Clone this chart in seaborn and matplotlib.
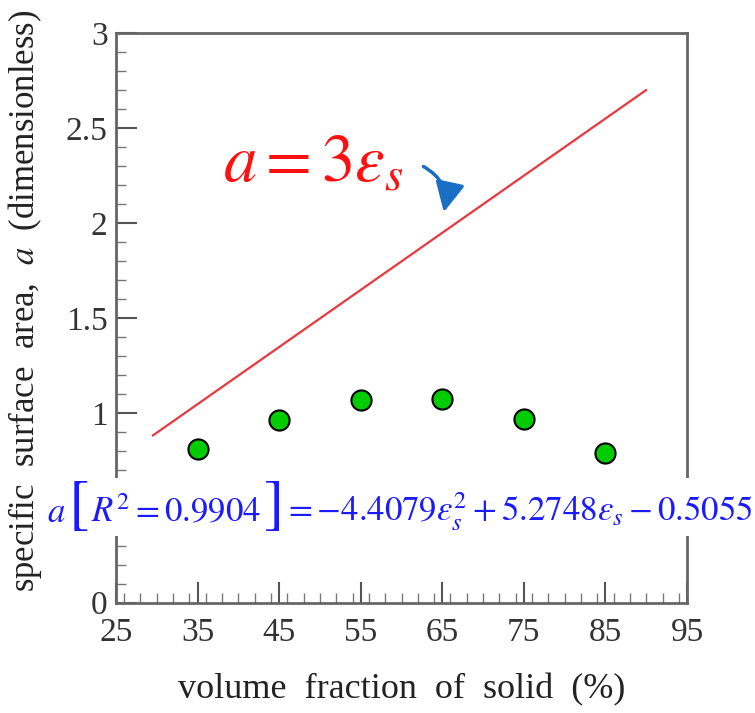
import numpy as np
import pandas as pd
import matplotlib
matplotlib.use("Agg")
import matplotlib.pyplot as plt
from matplotlib.ticker import MultipleLocator, FuncFormatter
from matplotlib.offsetbox import TextArea, HPacker, AnnotationBbox
import seaborn as sns

# === Data ===
solid_frac = [35, 45, 55, 65, 75, 85]                 # volume fraction of solid (%)
surface_area = [0.81, 0.96, 1.065, 1.075, 0.97, 0.79]  # measured a
line_x = [29.5, 90]                                    # a = 3*eps_s guide line
line_y = [0.88, 2.70]

x_ticks = [25, 35, 45, 55, 65, 75, 85, 95]
y_ticks = [0, 0.5, 1, 1.5, 2, 2.5, 3]

pts = pd.DataFrame({"frac": solid_frac, "a": surface_area})
guide = pd.DataFrame({"frac": line_x, "a": line_y})

# === Style ===
sns.set_style("white")
plt.rcParams["font.family"] = ["Liberation Serif", "DejaVu Serif"]
plt.rcParams["mathtext.fontset"] = "stix"

fig = plt.figure(figsize=(7.55, 7.13), dpi=100)
ax = fig.add_axes([0.1536, 0.1547, 0.7564, 0.7990])

sns.lineplot(data=guide, x="frac", y="a", color="#e8383d", linewidth=1.6, ax=ax)
sns.scatterplot(data=pts, x="frac", y="a", color="#00cc00", edgecolor="black",
                linewidth=1.5, s=210, zorder=4, ax=ax)

ax.set_xlim(25, 95)
ax.set_ylim(0, 3)
ax.set_xticks(x_ticks)
ax.set_yticks(y_ticks)
ax.xaxis.set_minor_locator(MultipleLocator(2))
ax.yaxis.set_minor_locator(MultipleLocator(0.1))
# the 0.5 label sits under the equation box in the original, so leave it blank
ax.yaxis.set_major_formatter(FuncFormatter(lambda v, p: "" if v == 0.5 else f"{v:g}"))
ax.tick_params(which="major", direction="in", length=15, width=1.5, color="#555555",
               labelsize=24, labelcolor="#333333",
               bottom=True, left=True, top=False, right=False)
ax.tick_params(axis="x", which="major", pad=11)
ax.tick_params(axis="y", which="major", pad=6)
ax.tick_params(which="minor", direction="in", length=7, width=1.0, color="#777777",
               bottom=True, left=True, top=False, right=False)
for sp in ax.spines.values():
    sp.set_color("#666666")
    sp.set_linewidth(2)

ax.set_xlabel("volume  fraction  of  solid  (%)", fontsize=26, color="#222222", labelpad=18)
ax.set_ylabel(r"specific  surface  area,  $a$  (dimensionless)", fontsize=25,
              color="#222222")
ax.yaxis.set_label_coords(-0.126, 0.53)

# red formula + curved blue arrow
ax.text(0.187, 0.74, r"$a = 3\varepsilon_s$", transform=ax.transAxes, color="#ff1010",
        fontsize=48, ha="left", va="baseline")
ax.annotate("", xy=(0.573, 0.681), xytext=(0.534, 0.768),
            xycoords="axes fraction", textcoords="axes fraction",
            arrowprops=dict(arrowstyle="-|>,head_length=0.9,head_width=0.45",
                            connectionstyle="arc3,rad=-0.4", color="#1a6fc4",
                            lw=2.5, mutation_scale=20))

# blue fitted equation, tall brackets, on a white box spilling past the axes
blue = "#1a1aff"
eq_parts = [
    (r"$a$", 25),
    (r"$[$", 44),
    (r"$R^2 = 0.9904$", 25),
    (r"$]$", 44),
    (r"$= -4.4079\varepsilon_s^2 + 5.2748\varepsilon_s - 0.5055$", 25),
]
boxes = [TextArea(s, textprops=dict(color=blue, fontsize=fs)) for s, fs in eq_parts]
eq = HPacker(children=boxes, align="baseline", pad=0, sep=2)
ab = AnnotationBbox(eq, (0.497, 0.168), xycoords="axes fraction", frameon=True,
                    box_alignment=(0.5, 0.5), pad=0.1, zorder=6,
                    bboxprops=dict(facecolor="white", edgecolor="none"))
ab.set_clip_on(False)
ax.add_artist(ab)

fig.savefig("out.png", dpi=100)
